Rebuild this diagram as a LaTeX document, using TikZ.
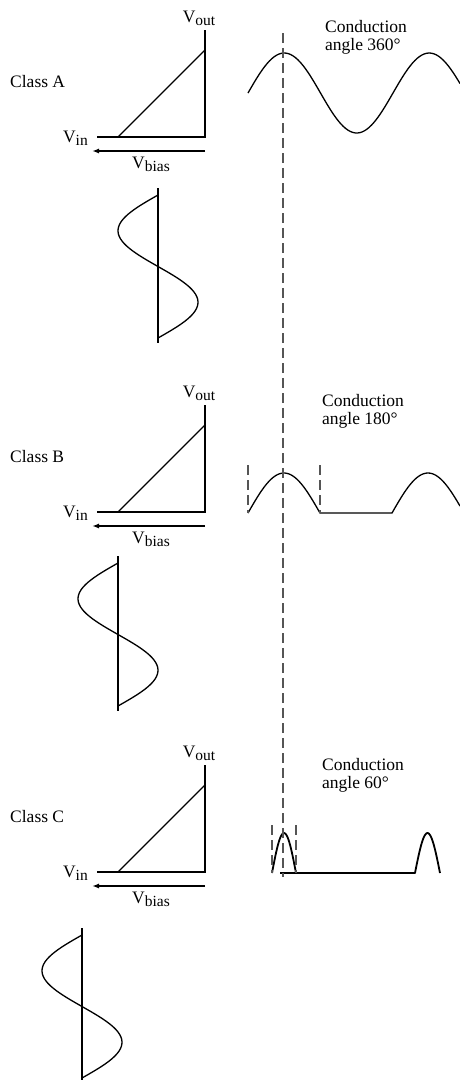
\documentclass[tikz,border=0pt]{standalone}
\usepackage{fontspec}
\setmainfont{Liberation Serif}
\usetikzlibrary{arrows.meta}
\definecolor{guideGray}{RGB}{85,85,85}
\newcommand{\lowsub}[1]{\raisebox{-3pt}{\fontsize{15.5}{15.5}\selectfont #1}}
\tikzset{
    every node/.append style={inner sep=0pt,font=\fontsize{17.5}{18}\selectfont},
    axis/.style={line width=2pt},
    wave/.style={line width=1.3pt,line join=round},
    pulse/.style={line width=1.8pt,line join=round},
    guide/.style={draw=guideGray,line width=2pt,dash pattern=on 10pt off 5pt},
    arr/.style={-{Latex[length=7pt,width=5pt]},line width=2pt},
    lbl/.style={anchor=base},
    cond/.style={anchor=base west,align=left}
}

\begin{document}
\begin{tikzpicture}[x=1pt,y=-1pt]
    \useasboundingbox (0,0) rectangle (460,1080);

    % transfer characteristic and bias arrow of each class
    \foreach \cls/\yy in {A/0, B/375, C/735} {
        \begin{scope}[shift={(0,\yy)}]
            \node[anchor=base west] (class\cls) at (10,87) {Class \cls};
            \node[lbl] (vout\cls) at (199,22) {V\lowsub{out}};
            \node[anchor=base east] (vin\cls) at (88,142) {V\lowsub{in}};
            \node[lbl] (vbias\cls) at (151,168) {V\lowsub{bias}};
            \coordinate (top\cls) at (205,30);
            \coordinate (org\cls) at (205,137);
            \coordinate (end\cls) at (97,137);
            \coordinate (knee\cls) at (118,137);
            \coordinate (sat\cls) at (205,50);
            \coordinate (bR\cls) at (205,151);
            \coordinate (bL\cls) at (92,151);
            \draw[axis] (top\cls) -- (org\cls) -- (end\cls);
            \draw[wave] (knee\cls) -- (sat\cls);
            \draw[arr] (bR\cls) -- (bL\cls);
        \end{scope}
    }

    % input signals
    \foreach \cls/\sx/\sy in {A/158/195, B/118/563, C/82/935} {
        \coordinate (inTop\cls) at (\sx,{\sy-7});
        \coordinate (inBot\cls) at (\sx,{\sy+148});
        \draw[wave] (inTop\cls) -- (inBot\cls);
        \draw[wave] plot[domain=0:143,samples=60,smooth] ({\sx-40*sin(\x/143*360)},{\sy+\x});
    }

    % output signals
    \draw[wave] plot[domain=248:460,samples=90,smooth] (\x,{93-40*sin((\x-248)/145*360)});
    \draw[wave] plot[domain=248:320,samples=40,smooth] (\x,{513-40*sin((\x-248)/72*180)})
        -- (392,513) -- plot[domain=392:460,samples=40,smooth] (\x,{513-40*sin((\x-392)/72*180)});
    \draw[pulse] plot[domain=272:296,samples=30,smooth] (\x,{873-40*sin((\x-272)/24*180)});
    \draw[pulse] (280,873) -- (415,873) -- plot[domain=415:440,samples=30,smooth] (\x,{873-40*sin((\x-415)/25*180)});

    \node[cond] (condA) at (325,50)  {Conduction\\angle 360°};
    \node[cond] (condB) at (322,424) {Conduction\\angle 180°};
    \node[cond] (condC) at (322,788) {Conduction\\angle 60°};

    % conduction guides
    \coordinate (gTop) at (283,33);
    \coordinate (gBot) at (283,877);
    \draw[guide] (gTop) -- (gBot);
    \foreach \gx in {248,320} { \draw[guide] (\gx,465) -- (\gx,513); }
    \foreach \gx in {272,296} { \draw[guide] (\gx,825) -- (\gx,873); }
\end{tikzpicture}
\end{document}
